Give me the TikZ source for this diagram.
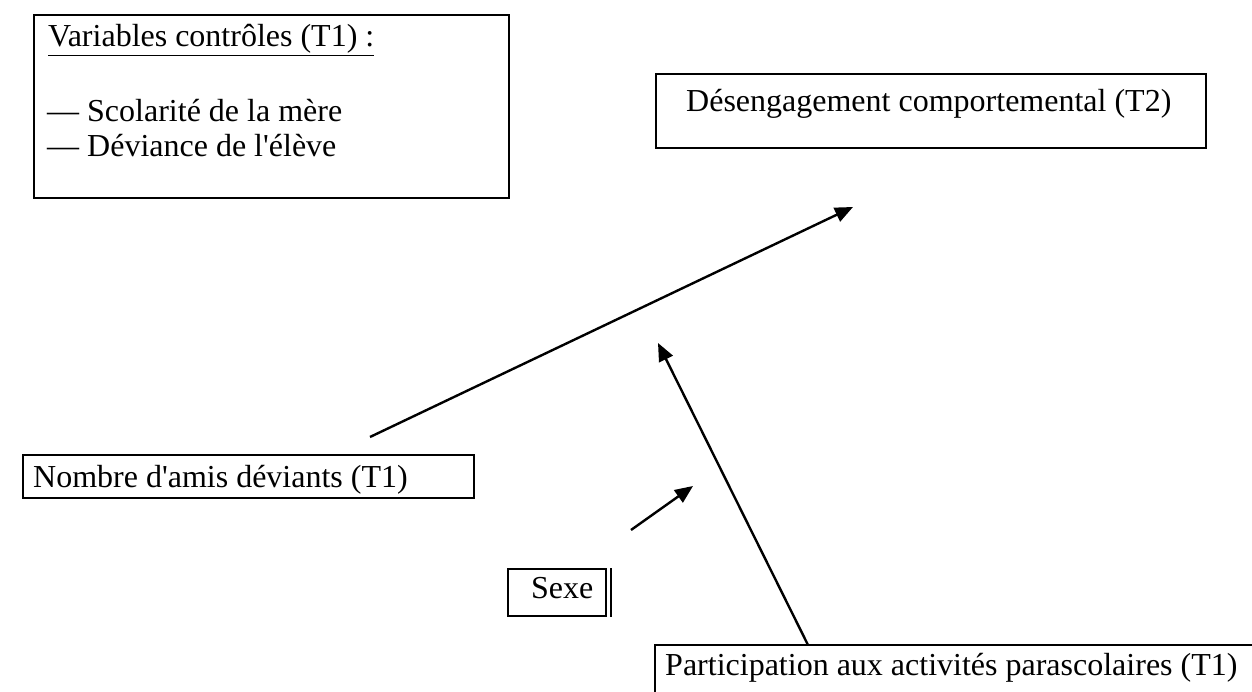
\documentclass[tikz,border=0pt]{standalone}
\usepackage{fontspec}
\setmainfont{Liberation Serif}
\usetikzlibrary{positioning}
\usetikzlibrary{arrows.meta}

\tikzset{
  framebox/.style={draw, line width=2.2pt, inner sep=0pt, anchor=north west},
  label/.style={anchor=base west, inner sep=0pt, font=\fontsize{32}{38}\selectfont},
  link/.style={line width=2.4pt, -{Triangle[length=18pt, width=15pt]}}
}

\begin{document}
\begin{tikzpicture}[x=1pt, y=-1pt]
    \useasboundingbox (0,0) rectangle (1252,692);
    \clip (0,0) rectangle (1252,692);

    % boxes
    \node[framebox, minimum width=475, minimum height=183] (ctrl) at (33,14) {};
    \node[framebox, minimum width=550, minimum height=74] (dis) at (655,73) {};
    \node[framebox, minimum width=451, minimum height=43] (amis) at (22,454) {};
    \node[framebox, minimum width=98, minimum height=47] (sexe) at (507,568) {};
    \node[framebox, minimum width=700, minimum height=100] (para) at (654,644) {};
    \draw[line width=1.5pt] (sexe.north east) ++(4,0) coordinate (sx) -- (sx |- sexe.south);

    % Labels
    \node[label] (ctrltitle) at (48,47) {\underline{Variables contrôles (T1) :}};
    \node[label] (ctrla) at (47,122) {— Scolarité de la mère};
    \node[label] (ctrlb) at (47,157) {— Déviance de l\textquotesingle élève};
    \node[label] (distext) at (686,112) {Désengagement comportemental (T2)};
    \node[label] (amistext) at (33,487) {Nombre d\textquotesingle amis déviants (T1)};
    \node[label] (sexetext) at (531,598) {Sexe};
    \node[label] (paratext) at (665,675) {Participation aux activités parascolaires (T1)};

    % arrows
    \coordinate (a1) at (370,437);
    \coordinate (b1) at (853,207);
    \coordinate (a2) at (808,645);
    \coordinate (b2) at (658,343);
    \coordinate (a3) at (631,530);
    \coordinate (b3) at (693,486);
    \draw[link] (a1) -- (b1);
    \draw[link] (a2) -- (b2);
    \draw[link] (a3) -- (b3);

\end{tikzpicture}
\end{document}
